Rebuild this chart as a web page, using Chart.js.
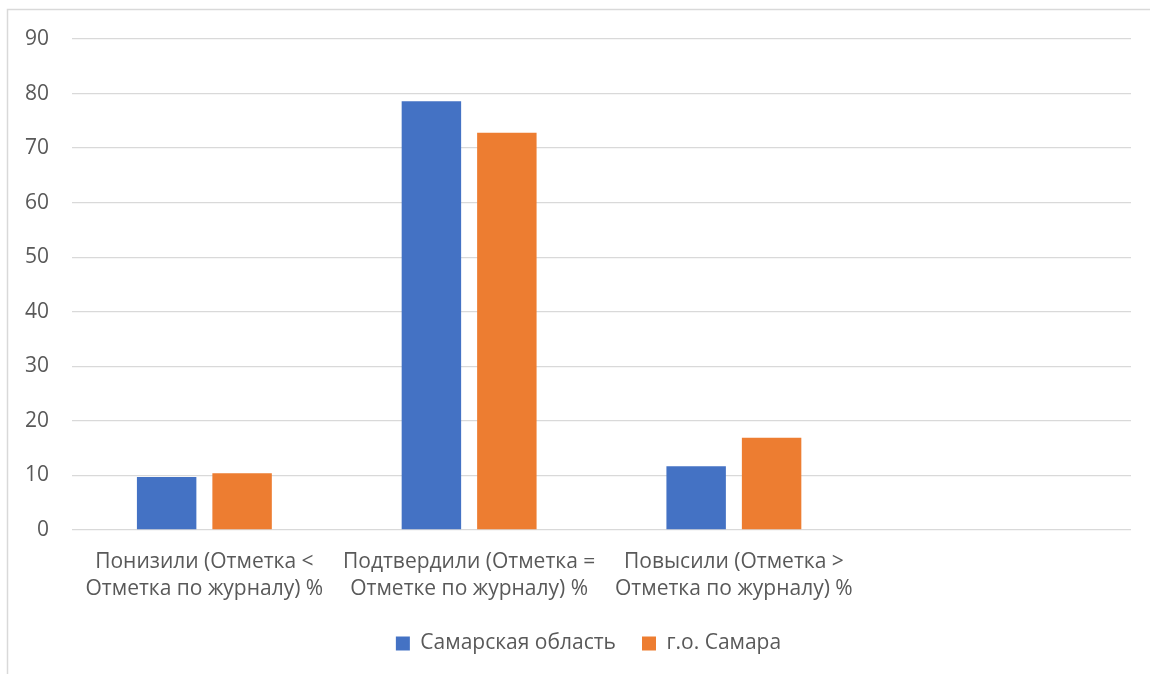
<!DOCTYPE html>
<html lang="ru">
<head>
<meta charset="utf-8">
<title>Сравнение отметок</title>
<script src="https://cdn.jsdelivr.net/npm/chart.js@4/dist/chart.umd.min.js"></script>
<style>
  html, body { margin: 0; padding: 0; background: #ffffff; }
  #wrap { position: relative; width: 1150px; height: 674px; }
</style>
</head>
<body>
<div id="wrap"><canvas id="chart" width="1150" height="674"></canvas></div>
<script>
// Categories (each label split into lines); the fourth slot is an empty category
const categories = [
  ['Понизили (Отметка <', 'Отметка по журналу) %'],
  ['Подтвердили (Отметка =', 'Отметке по журналу) %'],
  ['Повысили (Отметка >', 'Отметка по журналу) %'],
  ''
];
const seriesNames = ['Самарская область', 'г.о. Самара'];
const regionValues = [9.7, 78.6, 11.7, null];
const cityValues = [10.4, 72.8, 16.9, null];
const yTicks = [0, 10, 20, 30, 40, 50, 60, 70, 80, 90];

const textColor = '#595959';
const gridColor = '#d9d9d9';
const fontFamily = '"Open Sans", "Noto Sans", sans-serif';
const fontSize = 21;

// Thin frame along the top and left edges of the chart box
const framePlugin = {
  id: 'frame',
  beforeDraw(chart) {
    const ctx = chart.ctx;
    ctx.save();
    ctx.fillStyle = '#ffffff';
    ctx.fillRect(0, 0, chart.width, chart.height);
    ctx.strokeStyle = gridColor;
    ctx.lineWidth = 1.5;
    ctx.beginPath();
    ctx.moveTo(7.5, chart.height);
    ctx.lineTo(7.5, 9.5);
    ctx.lineTo(chart.width, 9.5);
    ctx.stroke();
    ctx.restore();
  }
};

// Center the legend row under the middle of the plot rather than the canvas
const legendOffsetPlugin = {
  id: 'legendOffset',
  afterLayout(chart) {
    if (chart.legend) {
      chart.legend.left += 46;
    }
  }
};

new Chart(document.getElementById('chart'), {
  type: 'bar',
  data: {
    labels: categories,
    datasets: [
      { label: seriesNames[0], data: regionValues, backgroundColor: '#4472C4' },
      { label: seriesNames[1], data: cityValues, backgroundColor: '#ED7D31' }
    ]
  },
  options: {
    responsive: false,
    animation: false,
    events: [],
    layout: { padding: { top: 39, right: 19, left: 0, bottom: 10 } },
    datasets: {
      bar: { categoryPercentage: 0.57, barPercentage: 0.788 }
    },
    scales: {
      x: {
        grid: { display: false, drawTicks: false },
        border: { display: false },
        ticks: {
          color: textColor,
          padding: 18,
          maxRotation: 0,
          autoSkip: false,
          font: { family: fontFamily, size: fontSize, lineHeight: 1.3 }
        },
        afterFit(scale) { scale.height = 77; }
      },
      y: {
        min: 0,
        max: yTicks[yTicks.length - 1],
        afterBuildTicks(scale) { scale.ticks = yTicks.map(v => ({ value: v })); },
        grid: { color: gridColor, lineWidth: 1.3, drawTicks: false },
        border: { display: false },
        ticks: {
          color: textColor,
          padding: 23,
          font: { family: fontFamily, size: fontSize }
        },
        afterFit(scale) { scale.width = 72; }
      }
    },
    plugins: {
      legend: {
        position: 'bottom',
        labels: {
          color: textColor,
          boxWidth: 14,
          boxHeight: 14,
          padding: 26,
          font: { family: fontFamily, size: fontSize }
        }
      },
      tooltip: { enabled: false }
    }
  },
  plugins: [framePlugin, legendOffsetPlugin]
});
</script>
</body>
</html>
